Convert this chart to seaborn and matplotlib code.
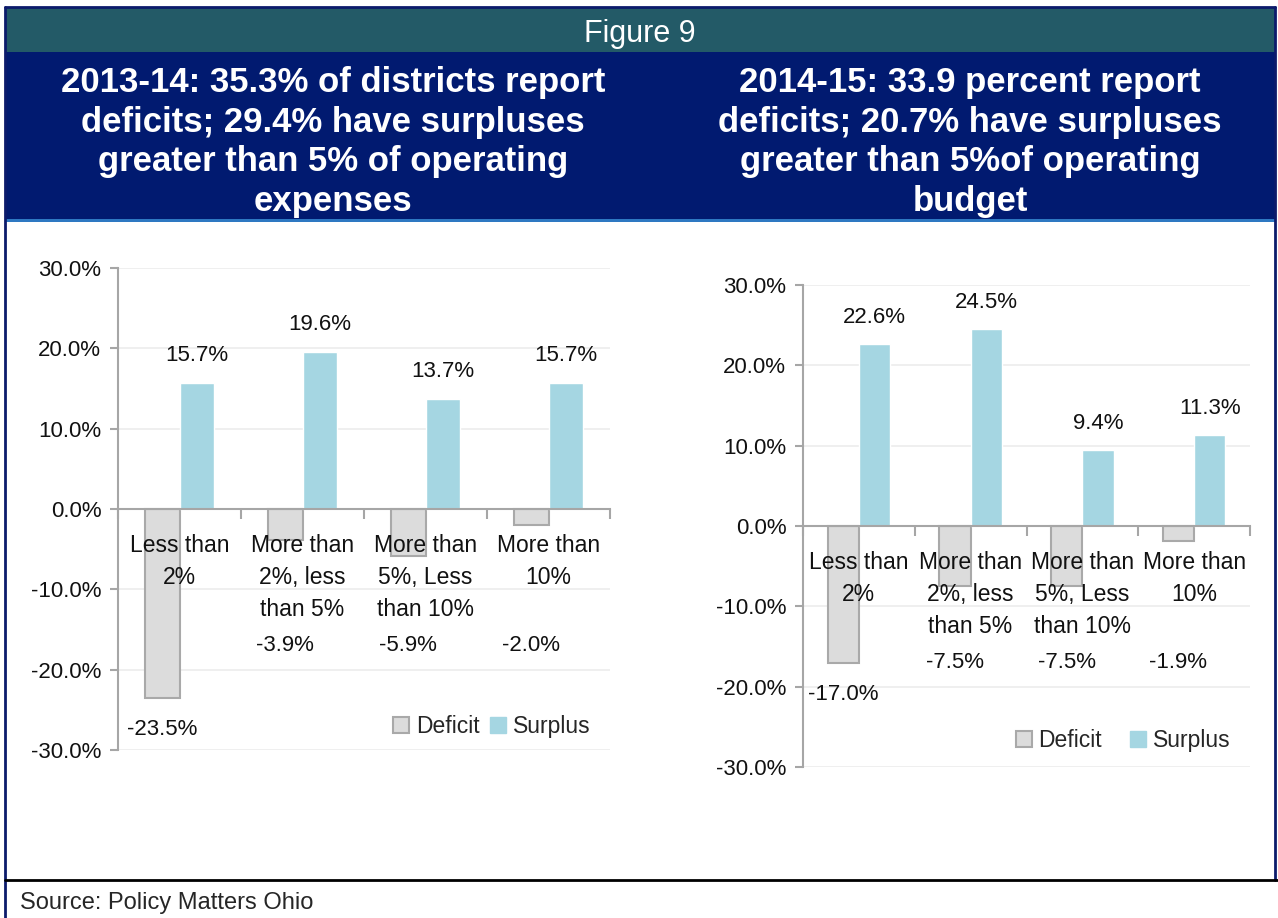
import numpy as np
import pandas as pd
import matplotlib.pyplot as plt
import seaborn as sns
from matplotlib.patches import Rectangle, Patch
from matplotlib.lines import Line2D

# ---- data ----
categories = ["Less than\n2%", "More than\n2%, less\nthan 5%",
              "More than\n5%, Less\nthan 10%", "More than\n10%"]
deficit_1314 = [-23.5, -3.9, -5.9, -2.0]
surplus_1314 = [15.7, 19.6, 13.7, 15.7]
deficit_1415 = [-17.0, -7.5, -7.5, -1.9]
surplus_1415 = [22.6, 24.5, 9.4, 11.3]
series_names = ["Deficit", "Surplus"]
yticks = [-30, -20, -10, 0, 10, 20, 30]

title_top = "Figure 9"
title_left = ("2013-14: 35.3% of districts report\ndeficits; 29.4% have surpluses\n"
              "greater than 5% of operating\nexpenses")
title_right = ("2014-15: 33.9 percent report\ndeficits; 20.7% have surpluses\n"
               "greater than 5%of operating\nbudget")
source = "Source: Policy Matters Ohio"

DEF_COL = "#dcdcdc"
DEF_EDGE = "#a9a9a9"
SUR_COL = "#a5d6e2"
TXT = "#111111"

sns.set_theme(style="white")
plt.rcParams['font.family'] = ['Liberation Sans', 'DejaVu Sans']

W, H = 1278, 918
fig = plt.figure(figsize=(W / 100, H / 100), dpi=100)


def px(x, y, w, h):
    # pixel box (top-left origin) -> figure fraction
    return [x / W, 1 - (y + h) / H, w / W, h / H]


def band(x, y, w, h, color):
    l, b, ww, hh = px(x, y, w, h)
    fig.add_artist(Rectangle((l, b), ww, hh, transform=fig.transFigure,
                             facecolor=color, edgecolor="none", zorder=0))


# header bands
band(5, 7, 1270, 45, "#235a67")
band(5, 52, 1270, 168, "#011a70")
band(5, 219, 1270, 3, "#2e78c2")
# frame lines
fig.add_artist(Line2D([5 / W, 5 / W], [0, 1 - 7 / H], transform=fig.transFigure,
                      color="#0c1b6b", lw=2))
fig.add_artist(Line2D([1275 / W, 1275 / W], [1 - 880 / H, 1 - 7 / H],
                      transform=fig.transFigure, color="#0c1b6b", lw=2))
fig.add_artist(Line2D([5 / W, 1275 / W], [1 - 7 / H, 1 - 7 / H],
                      transform=fig.transFigure, color="#0c1b6b", lw=2))
fig.add_artist(Line2D([5 / W, 1], [1 - 880 / H, 1 - 880 / H],
                      transform=fig.transFigure, color="black", lw=2))

fig.text(640 / W, 1 - 34 / H, title_top, color="white", fontsize=22,
         ha="center", va="center")
fig.text(333 / W, 1 - 142 / H, title_left, color="white", fontsize=25,
         fontweight="bold", ha="center", va="center", linespacing=1.26)
fig.text(970 / W, 1 - 142 / H, title_right, color="white", fontsize=25,
         fontweight="bold", ha="center", va="center", linespacing=1.26)
fig.text(20 / W, 1 - 903 / H, source, fontsize=17, ha="left", va="center")


def draw_panel(rect, deficit, surplus, leg_anchor, colspace):
    ax = fig.add_axes(px(*rect))
    df = pd.DataFrame({
        "cat": categories * 2,
        "type": [series_names[0]] * 4 + [series_names[1]] * 4,
        "val": deficit + surplus,
    })
    sns.barplot(data=df, x="cat", y="val", hue="type", ax=ax, width=0.56,
                palette=[DEF_COL, SUR_COL], saturation=1, legend=False, zorder=3)
    for bar in ax.containers[0]:
        bar.set_edgecolor(DEF_EDGE)
        bar.set_linewidth(1.5)

    ax.set_xlim(-0.5, 3.5)
    ax.set_ylim(-30, 30)
    ax.set_yticks(yticks)
    ax.set_yticklabels([f"{v:.1f}%" for v in yticks], fontsize=16)
    ax.set_xlabel("")
    ax.set_ylabel("")
    ax.grid(axis="y", color="#ececec", lw=1.2, zorder=0)

    for s in ["top", "right"]:
        ax.spines[s].set_visible(False)
    ax.spines["left"].set_color("#a6a6a6")
    ax.spines["left"].set_linewidth(1.5)
    ax.spines["bottom"].set_position(("data", 0))
    ax.spines["bottom"].set_color("#a6a6a6")
    ax.spines["bottom"].set_linewidth(1.5)
    ax.spines["bottom"].set_zorder(4)
    ax.set_xticks([-0.5, 0.5, 1.5, 2.5, 3.5])
    ax.set_xticklabels([])
    ax.tick_params(axis="x", direction="out", length=7, width=1.5,
                   color="#a6a6a6", bottom=True)
    ax.tick_params(axis="y", direction="out", length=6, width=1.5,
                   color="#a6a6a6", left=True, pad=6, labelcolor=TXT)

    # category labels just under the zero line
    for i, c in enumerate(categories):
        ax.annotate(c, (i, 0), xytext=(0, -18), textcoords="offset points",
                    ha="center", va="top", fontsize=16.5, linespacing=1.5,
                    color=TXT, zorder=5)

    # value labels
    for bar, v in zip(ax.containers[1], surplus):
        ax.annotate(f"{v:.1f}%", (bar.get_x() + bar.get_width() / 2, v),
                    xytext=(0, 12), textcoords="offset points", ha="center",
                    va="bottom", fontsize=16, color=TXT)
    for bar, v in zip(ax.containers[0], deficit):
        ax.text(bar.get_x() + bar.get_width() / 2, min(v - 4, -17),
                f"{v:.1f}%", ha="center", va="center", fontsize=16,
                color=TXT, zorder=5)

    handles = [Patch(facecolor=DEF_COL, edgecolor=DEF_EDGE, lw=1.5),
               Patch(facecolor=SUR_COL, edgecolor=SUR_COL)]
    ax.legend(handles, series_names, loc="center left", bbox_to_anchor=leg_anchor,
              ncol=2, frameon=False, fontsize=16.5, handlelength=0.7,
              handleheight=0.7, handletextpad=0.3, columnspacing=colspace,
              borderaxespad=0)
    return ax


draw_panel((118, 268, 492, 482), deficit_1314, surplus_1314, (0.54, 0.048), 0.45)
draw_panel((803, 285, 447, 482), deficit_1415, surplus_1415, (0.455, 0.054), 1.2)

fig.savefig("out.png", dpi=100)
